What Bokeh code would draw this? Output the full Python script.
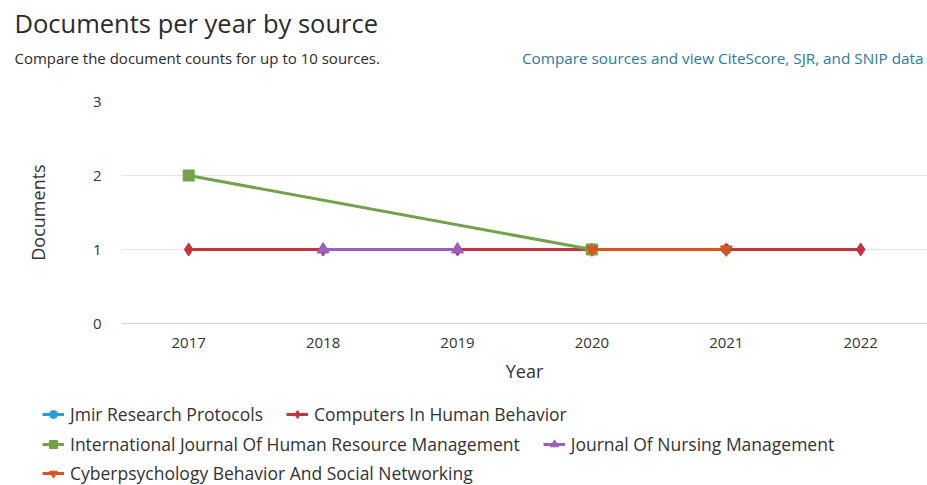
from bokeh.plotting import figure
from bokeh.models import Range1d, FixedTicker, Label, Legend, LegendItem
from bokeh.layouts import column
from bokeh.embed import file_html
from bokeh.resources import INLINE

# ---- data ----
years = [2017, 2018, 2019, 2020, 2021, 2022]
y_ticks = [0, 1, 2, 3]

jmir_years = [2021]
jmir_docs = [1]
chb_years = [2017, 2018, 2019, 2020, 2021, 2022]
chb_docs = [1, 1, 1, 1, 1, 1]
ijhrm_years = [2017, 2020]
ijhrm_docs = [2, 1]
jnm_years = [2018, 2019]
jnm_docs = [1, 1]
cyber_years = [2020, 2021]
cyber_docs = [1, 1]

series_names = [
    "Jmir Research Protocols",
    "Computers In Human Behavior",
    "International Journal Of Human Resource Management",
    "Journal Of Nursing Management",
    "Cyberpsychology Behavior And Social Networking",
]
series_x = [jmir_years, chb_years, ijhrm_years, jnm_years, cyber_years]
series_y = [jmir_docs, chb_docs, ijhrm_docs, jnm_docs, cyber_docs]
series_colors = ["#2a9fd0", "#c4343e", "#72a34a", "#9b5fbf", "#d9541e"]
series_markers = ["circle", "diamond", "square", "triangle", "inverted_triangle"]
series_sizes = [10, 13, 11, 12, 12]

title_text = "Documents per year by source"
subtitle_text = "Compare the document counts for up to 10 sources."
link_text = "Compare sources and view CiteScore, SJR, and SNIP data"

FONT = "Open Sans"
W = 927
HEADER_H, MAIN_H, LEGEND_H = 80, 315, 90


def blank_fig(h):
    f = figure(width=W, height=h, output_backend="svg", toolbar_location=None,
               x_axis_type=None, y_axis_type=None, frame_align=False,
               min_border_left=0, min_border_right=0, min_border_top=0,
               min_border_bottom=0, x_range=Range1d(0, W), y_range=Range1d(0, h))
    f.outline_line_color = None
    f.xgrid.grid_line_color = None
    f.ygrid.grid_line_color = None
    f.border_fill_color = "white"
    f.background_fill_color = "white"
    return f


# ---- header ----
header = blank_fig(HEADER_H)


def add_label(fig, text, px, py, size, color, align="left"):
    fig.add_layout(Label(x=px, y=fig.height - py, x_units="screen", y_units="screen",
                         text=text, text_font=FONT, text_font_size=size,
                         text_color=color, text_align=align, text_baseline="middle"))


add_label(header, title_text, 14, 22, "25.5px", "#2b2b2b")
add_label(header, subtitle_text, 14, 57, "15px", "#2b2b2b")
add_label(header, link_text, 923, 57, "15.3px", "#2a7a9c", align="right")

# ---- main chart ----
left, top, bottom = 121, 21, 72
px_per_year = 134.4
p = figure(width=W, height=MAIN_H, output_backend="svg", toolbar_location=None,
           frame_align=False,
           min_border_left=left, min_border_right=0, min_border_top=top,
           min_border_bottom=bottom,
           x_range=Range1d(2016.5, 2016.5 + (W - left) / px_per_year),
           y_range=Range1d(0, 3))
p.outline_line_color = None
p.background_fill_color = "white"
p.border_fill_color = "white"

p.xaxis.ticker = FixedTicker(ticks=years)
p.xaxis.axis_line_color = "#ccd6eb"
p.xaxis.axis_line_width = 1
p.xaxis.major_tick_line_color = None
p.xaxis.minor_tick_line_color = None
p.xaxis.major_label_text_font = FONT
p.xaxis.major_label_text_font_size = "15px"
p.xaxis.major_label_text_color = "#333333"
p.xaxis.major_label_standoff = 8
p.xaxis.axis_label = "Year"
p.xaxis.axis_label_text_font = FONT
p.xaxis.axis_label_text_font_size = "18px"
p.xaxis.axis_label_text_font_style = "normal"
p.xaxis.axis_label_text_color = "#333333"
p.xaxis.axis_label_standoff = 8

p.yaxis.ticker = FixedTicker(ticks=y_ticks)
p.yaxis.axis_line_color = None
p.yaxis.major_tick_line_color = None
p.yaxis.minor_tick_line_color = None
p.yaxis.major_label_text_font = FONT
p.yaxis.major_label_text_font_size = "15px"
p.yaxis.major_label_text_color = "#333333"
p.yaxis.major_label_standoff = 14
p.yaxis.axis_label = "Documents"
p.yaxis.axis_label_text_font = FONT
p.yaxis.axis_label_text_font_size = "18px"
p.yaxis.axis_label_text_font_style = "normal"
p.yaxis.axis_label_text_color = "#333333"
p.yaxis.axis_label_standoff = 40

p.xgrid.grid_line_color = None
p.ygrid.grid_line_color = "#e6e6e6"
p.ygrid.grid_line_width = 1

for xs, ys, c, m, s in zip(series_x, series_y, series_colors, series_markers, series_sizes):
    p.line(xs, ys, line_color=c, line_width=3)
    p.scatter(xs, ys, marker=m, size=s, fill_color=c, line_color=c)

# ---- legend (separate strip; its renderers hold the series data, which lies
# outside this strip's own ranges, so only the legend keys are visible) ----
leg = blank_fig(LEGEND_H)
items = []
for name, xs, ys, c, m, s in zip(series_names, series_x, series_y,
                                  series_colors, series_markers, series_sizes):
    r1 = leg.line(xs, ys, line_color=c, line_width=3)
    r2 = leg.scatter(xs, ys, marker=m, size=s, fill_color=c, line_color=c)
    items.append(LegendItem(label=name, renderers=[r1, r2]))

rows = [[0, 1], [2, 3], [4]]
row_centers = [21, 51, 80]
for idxs, cy in zip(rows, row_centers):
    lg = Legend(items=[items[i] for i in idxs], orientation="horizontal",
                location=(42, LEGEND_H - (cy + 10)),
                label_text_font=FONT, label_text_font_size="17.5px",
                label_text_color="#333333",
                glyph_width=22, glyph_height=20, label_height=20,
                label_standoff=6, spacing=23, padding=0, margin=0,
                border_line_color=None, background_fill_alpha=0)
    leg.add_layout(lg, "center")

layout = column(header, p, leg, spacing=0)
open("out.html", "w").write(file_html(layout, INLINE))
